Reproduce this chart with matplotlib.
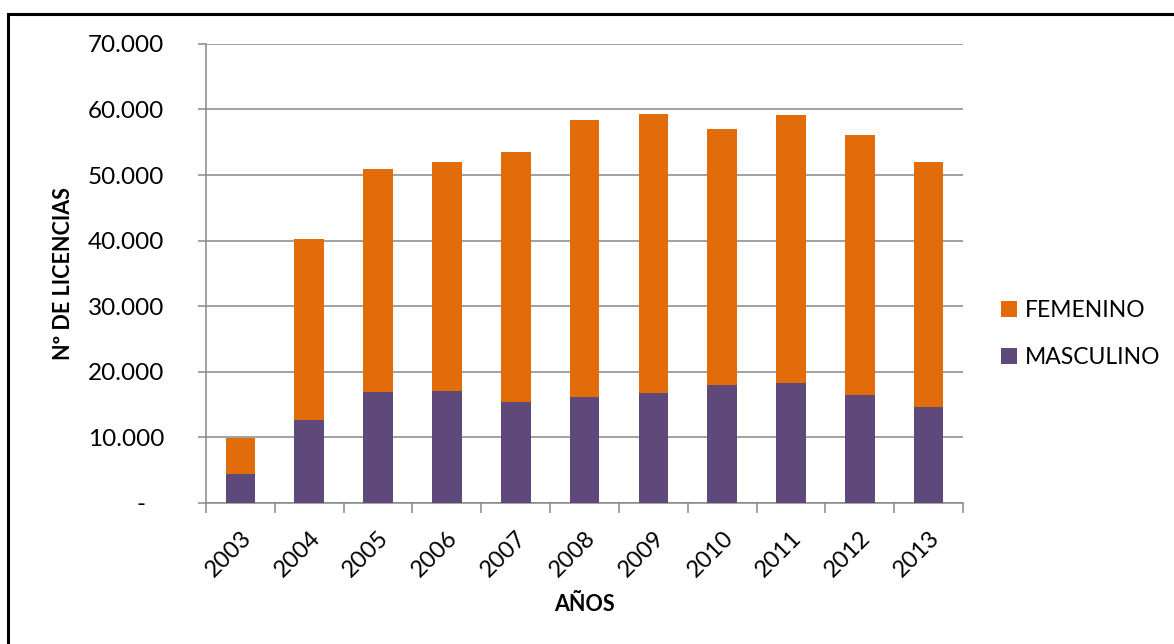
import matplotlib.pyplot as plt
from matplotlib.patches import Rectangle
from matplotlib.ticker import FuncFormatter
import numpy as np

plt.rcParams['font.family'] = ['Lato', 'DejaVu Sans']

# Licencias por año y sexo
years = ['2003', '2004', '2005', '2006', '2007', '2008',
         '2009', '2010', '2011', '2012', '2013']
masculino = [4330, 12530, 16910, 17070, 15280, 16100,
             16660, 17880, 18190, 16350, 14620]
femenino = [5600, 27770, 33980, 34950, 38260, 42330,
            42640, 39120, 40910, 39740, 37290]

ORANGE = '#E36C0A'
PURPLE = '#5F497A'
GRID = '#888888'

fig = plt.figure(figsize=(11.74, 6.44), dpi=100)
ax = fig.add_axes([0.1755, 0.2196, 0.6448, 0.7121])

x = np.arange(len(years))
ax.bar(x, masculino, width=0.43, color=PURPLE, label='MASCULINO', zorder=3)
ax.bar(x, femenino, width=0.43, bottom=masculino, color=ORANGE,
       label='FEMENINO', zorder=3)

ax.set_xlim(-0.5, len(years) - 0.5)
ax.set_ylim(0, 70000)
ax.set_yticks(np.arange(0, 70001, 10000))


def miles(v, pos):
    if v == 0:
        return '-   '
    return f'{int(v):,}'.replace(',', '.')


ax.yaxis.set_major_formatter(FuncFormatter(miles))
ax.yaxis.grid(True, color=GRID, linewidth=1.1, zorder=0)

# ticks between categories, labels centred under each bar
ax.set_xticks(np.arange(-0.5, len(years), 1.0))
ax.set_xticklabels([])
ax.set_xticks(x, minor=True)
ax.set_xticklabels(years, minor=True, rotation=45, ha='right',
                   rotation_mode='anchor', fontsize=17)
ax.tick_params(axis='x', which='minor', length=0, pad=18)
ax.tick_params(axis='x', which='major', length=7, width=1.1, color=GRID)
ax.tick_params(axis='y', length=6, width=1.1, color=GRID, pad=24,
               labelsize=17.5)

for side in ['top', 'right']:
    ax.spines[side].set_visible(False)
for side in ['left', 'bottom']:
    ax.spines[side].set_color(GRID)
    ax.spines[side].set_linewidth(1.1)

ax.set_ylabel('Nº DE LICENCIAS', fontsize=15.5, fontweight='bold', labelpad=10)
ax.set_xlabel('AÑOS', fontsize=15.5, fontweight='bold', labelpad=9)

handles, labels = ax.get_legend_handles_labels()
fig.legend(handles[::-1], labels[::-1], loc='center left',
           bbox_to_anchor=(0.835, 0.481), frameon=False, fontsize=16.5,
           handlelength=0.7, handleheight=0.7, handletextpad=0.35,
           labelspacing=1.15)

# outer chart frame
fig.patches.append(Rectangle((8 / 1174, -0.05), 1.2, 1 - 14 / 644 + 0.05,
                             transform=fig.transFigure, fill=False,
                             edgecolor='black', linewidth=2.2))

fig.savefig('out.png', dpi=100)
